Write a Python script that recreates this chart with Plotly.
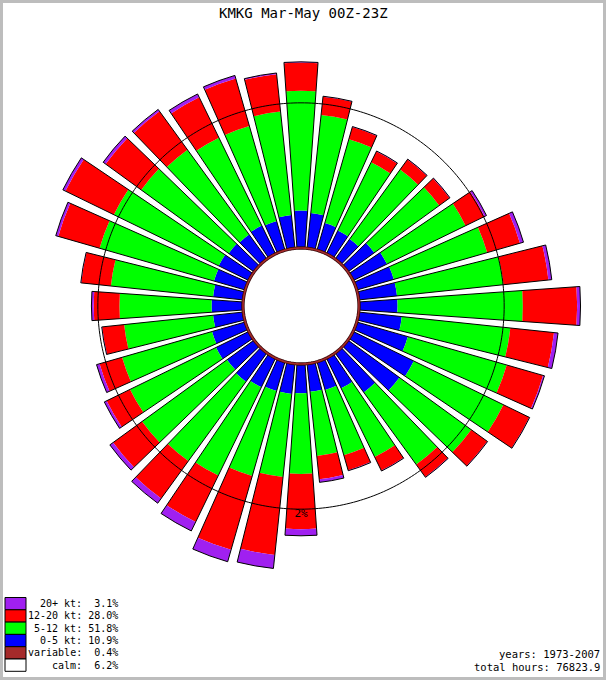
import numpy as np
import plotly.graph_objects as go

# ---------------- data ----------------
title_text = "KMKG Mar-May 00Z-23Z"
directions = list(range(0, 360, 10))  # compass degrees

# percent of all hours, per direction, per speed bin
pct_0_5 = [0.30, 0.28, 0.21, 0.19, 0.18, 0.25, 0.30, 0.31, 0.31, 0.31,
           0.36, 0.47, 0.65, 0.60, 0.42, 0.26, 0.22, 0.21, 0.22, 0.23,
           0.23, 0.25, 0.28, 0.26, 0.29, 0.27, 0.23, 0.24, 0.23, 0.25,
           0.26, 0.24, 0.23, 0.24, 0.23, 0.26]
pct_5_12 = [1.97, 1.49, 1.20, 0.98, 1.14, 1.11, 1.29, 1.49, 1.70, 2.11,
            1.80, 1.77, 1.85, 1.56, 1.43, 1.05, 0.87, 0.81, 1.09, 1.15,
            1.24, 1.45, 1.48, 1.60, 1.44, 1.38, 1.26, 1.32, 1.52, 1.89,
            1.85, 1.64, 1.56, 1.43, 1.44, 1.58]
pct_12_20 = [0.68, 0.39, 0.24, 0.21, 0.23, 0.24, 0.43, 0.76, 1.08, 1.43,
             1.08, 0.93, 0.73, 0.46, 0.33, 0.28, 0.27, 0.40, 1.14, 1.75,
             1.75, 1.17, 1.05, 0.81, 0.56, 0.49, 0.44, 0.53, 0.65, 1.05,
             1.34, 1.02, 1.09, 1.00, 1.11, 0.85]
pct_20p = [0.02, 0.01, 0.01, 0.01, 0.01, 0.01, 0.05, 0.09, 0.09, 0.10,
           0.11, 0.04, 0.01, 0.01, 0.01, 0.01, 0.01, 0.06, 0.16, 0.37,
           0.34, 0.26, 0.15, 0.10, 0.06, 0.07, 0.01, 0.05, 0.01, 0.07,
           0.08, 0.08, 0.06, 0.09, 0.08, 0.03]

calm_pct = 6.2
variable_pct = 0.4
ring_pct = 2.0

legend_names = ["20+ kt", "12-20 kt", "5-12 kt", "0-5 kt", "variable", "calm"]
legend_pcts = [3.1, 28.0, 51.8, 10.9, 0.4, 6.2]
legend_colors = ["#a020f0", "#ff0000", "#00ff00", "#0000ff", "#a52a2a", "#ffffff"]
years_text = "years: 1973-2007"
hours_text = "total hours: 76823.9"

# ---------------- geometry ----------------
W, H = 606, 680
CX, CY = 301, 306          # rose centre (px)
RPX = 290                  # polar domain radius (px)
PX_PER_UNIT = 137.5        # px per sqrt(%) (area-proportional rose)
RMAX = RPX / PX_PER_UNIT
FONT = "DejaVu Sans Mono"

n = len(directions)
base_pct = (calm_pct + variable_pct) / n
bins = [(pct_0_5, "#0000ff"), (pct_5_12, "#00ff00"),
        (pct_12_20, "#ff0000"), (pct_20p, "#a020f0")]

fig = go.Figure()
cum = np.full(n, base_pct)
R0 = np.sqrt(cum.copy())
for vals, col in bins:
    lo = np.sqrt(cum)
    cum = cum + np.array(vals)
    hi = np.sqrt(cum)
    fig.add_trace(go.Barpolar(theta=directions, r=hi - lo, base=lo, width=8,
                              marker=dict(color=col, line=dict(width=0)),
                              hoverinfo="skip"))
# bar outlines
fig.add_trace(go.Barpolar(theta=directions, r=np.sqrt(cum) - R0, base=R0, width=8,
                          marker=dict(color="rgba(0,0,0,0)",
                                      line=dict(color="black", width=1)),
                          hoverinfo="skip"))

circ = np.arange(0, 361, 1)
r_calm = np.sqrt(calm_pct / n)
r_var = np.sqrt(base_pct)
r_mid = (r_calm + r_var) / 2
fig.add_trace(go.Scatterpolar(theta=circ, r=np.full(circ.size, r_mid), mode="lines",
                              line=dict(color="#3a0a0a", width=3.2), hoverinfo="skip"))
fig.add_trace(go.Scatterpolar(theta=circ, r=np.full(circ.size, r_mid), mode="lines",
                              line=dict(color="#a52a2a", width=1.6), hoverinfo="skip"))

r2 = np.sqrt(base_pct + ring_pct)
fig.add_trace(go.Scatterpolar(theta=circ, r=np.full(circ.size, r2), mode="lines",
                              line=dict(color="black", width=1), hoverinfo="skip"))
fig.add_trace(go.Scatterpolar(theta=[180], r=[r2], mode="text", text=[f"{ring_pct:.0f}%"],
                              textposition="bottom center",
                              textfont=dict(family=FONT, size=11, color="black"),
                              hoverinfo="skip"))

def px(x):
    return x / W

def py(y):
    return 1 - y / H

shapes = []
annotations = []
# legend
row_h = 12.3
for i, (nm, pc, col) in enumerate(zip(legend_names, legend_pcts, legend_colors)):
    y0 = 597.5 + row_h * i
    shapes.append(dict(type="rect", xref="paper", yref="paper",
                       x0=px(5), x1=px(26), y0=py(y0), y1=py(y0 + row_h),
                       fillcolor=col, line=dict(color="black", width=1)))
    annotations.append(dict(xref="paper", yref="paper", x=px(120), y=py(y0 + row_h / 2),
                            xanchor="right", yanchor="middle", showarrow=False,
                            text=f"{nm}: {pc:4.1f}%",
                            font=dict(family=FONT, size=10, color="black")))
annotations.append(dict(xref="paper", yref="paper", x=px(602), y=py(654),
                        xanchor="right", yanchor="middle", showarrow=False,
                        text=years_text, font=dict(family=FONT, size=10.5, color="black")))
annotations.append(dict(xref="paper", yref="paper", x=px(602), y=py(667),
                        xanchor="right", yanchor="middle", showarrow=False,
                        text=hours_text, font=dict(family=FONT, size=10.5, color="black")))
annotations.append(dict(xref="paper", yref="paper", x=px(303), y=py(13),
                        xanchor="center", yanchor="middle", showarrow=False,
                        text=title_text, font=dict(family=FONT, size=14, color="black")))
# frame
shapes.append(dict(type="rect", xref="paper", yref="paper", x0=0, x1=1, y0=0, y1=1,
                   line=dict(color="#bdbdbd", width=6), fillcolor="rgba(0,0,0,0)"))

fig.update_layout(
    width=W, height=H,
    margin=dict(l=0, r=0, t=0, b=0),
    paper_bgcolor="white",
    showlegend=False,
    hovermode=False,
    shapes=shapes,
    annotations=annotations,
    polar=dict(
        domain=dict(x=[(CX - RPX) / W, (CX + RPX) / W],
                    y=[1 - (CY + RPX) / H, 1 - (CY - RPX) / H]),
        bgcolor="white",
        barmode="overlay",
        angularaxis=dict(rotation=90, direction="clockwise", showgrid=False,
                         showline=False, showticklabels=False, ticks=""),
        radialaxis=dict(range=[0, RMAX], visible=False, showgrid=False),
    ),
)

fig.write_html(
    "out.html",
    config={"displayModeBar": False, "staticPlot": True},
    post_script="document.body.style.margin='0';"
                "document.body.style.padding='0';"
                "document.documentElement.style.overflow='hidden';",
)
